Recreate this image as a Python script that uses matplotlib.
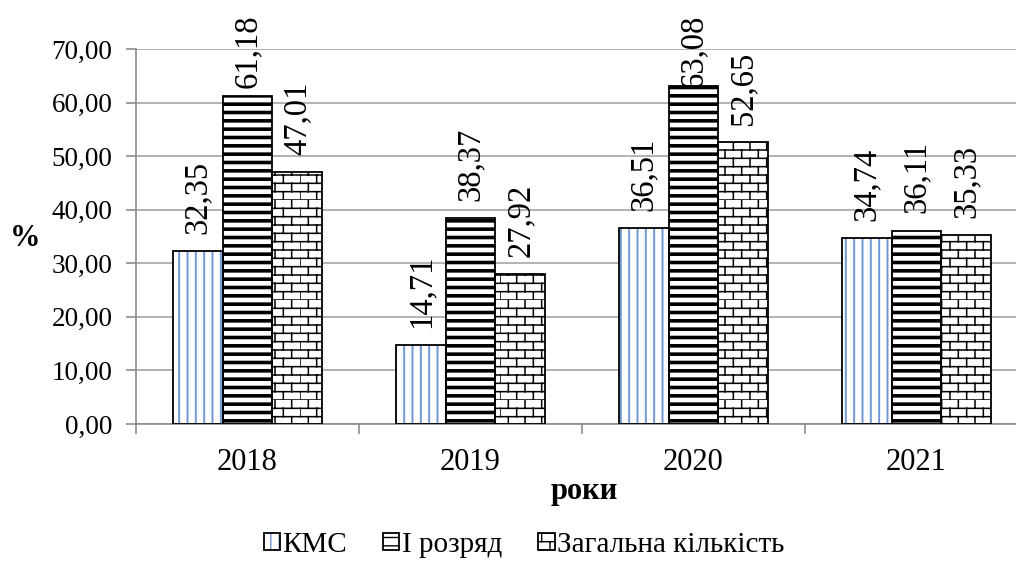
import matplotlib
matplotlib.use('Agg')
import matplotlib.pyplot as plt
import matplotlib.hatch as mhatch
from matplotlib.patches import Rectangle
from matplotlib.legend_handler import HandlerTuple
import numpy as np

# data
years = ['2018', '2019', '2020', '2021']
kms = [32.35, 14.71, 36.51, 34.74]
rozriad = [61.18, 38.37, 63.08, 36.11]
total = [47.01, 27.92, 52.65, 35.33]
names = ['КМС', 'І розряд', 'Загальна кількість']


# brick hatch (reuses the 'o' hatch letter, small circles are not needed here)
class BrickHatch(mhatch.HatchPatternBase):
    def __init__(self, hatch, density):
        self.num_rows = hatch.count('o') * density
        self.per_row = max(self.num_rows // 2, 1)
        self.num_vertices = self.num_rows * (2 + 2 * self.per_row)

    def set_vertices_and_codes(self, vertices, codes):
        k = 0
        step = 1.0 / self.num_rows
        for i in range(self.num_rows):
            y = i * step
            vertices[k] = (0, y)
            vertices[k + 1] = (1, y)
            codes[k] = mhatch.Path.MOVETO
            codes[k + 1] = mhatch.Path.LINETO
            k += 2
            shift = 0.5 * (i % 2)
            for j in range(self.per_row):
                xv = (j + shift) / self.per_row
                vertices[k] = (xv, y)
                vertices[k + 1] = (xv, y + step)
                codes[k] = mhatch.Path.MOVETO
                codes[k + 1] = mhatch.Path.LINETO
                k += 2


mhatch._hatch_types = [t for t in mhatch._hatch_types
                       if t is not mhatch.SmallCircles] + [BrickHatch]

serif = ['Liberation Serif', 'DejaVu Serif']
plt.rcParams['font.family'] = serif

fig = plt.figure(figsize=(10.16, 5.61), dpi=100)
ax = fig.add_axes([136 / 1016, 137 / 561, 892 / 1016, 375 / 561])

x = np.arange(len(years))
w = 0.223
series = [
    (-w, kms, '||', '#7097d6', 1.4),
    (0, rozriad, '--', 'black', 2.6),
    (w, total, 'oo', 'black', 1.1),
]

handles = []
for off, vals, hatch, hcol, hlw in series:
    with plt.rc_context({'hatch.linewidth': hlw, 'hatch.color': hcol}):
        bars = ax.bar(x + off, vals, w, color='white', edgecolor=hcol,
                      hatch=hatch, linewidth=0, zorder=2)
        proxy = Rectangle((0, 0), 1, 1, facecolor='white', edgecolor=hcol,
                          hatch=hatch, linewidth=0)
    for b in list(bars) + [proxy]:
        if hasattr(b, 'set_hatch_linewidth'):
            b.set_hatch_linewidth(hlw)
    ax.bar(x + off, vals, w, fill=False, edgecolor='black', linewidth=1.3, zorder=3)
    outline = Rectangle((0, 0), 1, 1, fill=False, edgecolor='black', linewidth=1.3)
    handles.append((proxy, outline))
    for xi, v in zip(x + off, vals):
        ax.text(xi, min(v + 3.2, 62.7), f'{v:.2f}'.replace('.', ','),
                rotation=90, ha='center', va='bottom', fontsize=23.5)

ax.set_xlim(-0.5, 3.5)
ax.set_ylim(0, 70)
yt = np.arange(0, 71, 10)
ax.set_yticks(yt)
ax.set_yticklabels([f'{t:.2f}'.replace('.', ',') for t in yt])
ax.set_xticks(x)
ax.set_xticklabels(years)
ax.set_xticks(np.arange(-0.5, 4, 1), minor=True)

gray = '#8c8c8c'
ax.tick_params(axis='y', length=7, width=1.2, color=gray, pad=10, labelsize=19.5)
ax.tick_params(axis='x', which='major', length=0, pad=17, labelsize=22)
ax.tick_params(axis='x', which='minor', length=7, width=1.2, color=gray)
for s in ['top', 'right']:
    ax.spines[s].set_visible(False)
for s in ['left', 'bottom']:
    ax.spines[s].set_color(gray)
    ax.spines[s].set_linewidth(1.2)
ax.yaxis.grid(True, color='#a6a6a6', linewidth=1.2)
ax.set_axisbelow(True)

fig.text(25 / 1016, 1 - 239 / 561, '%', fontsize=22, fontweight='bold',
         ha='center', va='center')
fig.text(584 / 1016, 1 - 491 / 561, 'роки', fontsize=22, fontweight='bold',
         ha='center', va='center')

fig.legend(handles, names, handler_map={tuple: HandlerTuple(ndivide=1)},
           loc='center', bbox_to_anchor=(524 / 1016, 1 - 545 / 561), ncol=3,
           frameon=False, prop={'family': serif, 'size': 21},
           handlelength=0.55, handleheight=0.55,
           handletextpad=0.08, columnspacing=1.25)

fig.savefig('out.png', dpi=100)
